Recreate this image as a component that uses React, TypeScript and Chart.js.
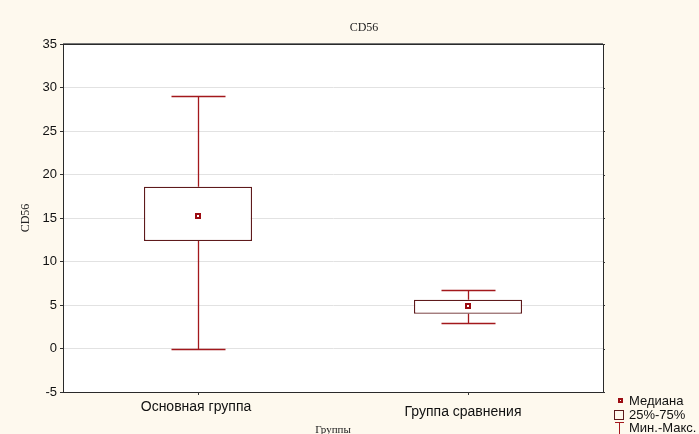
import React, { useEffect, useRef } from "react";
import { Chart, registerables } from "chart.js";

Chart.register(...registerables);

const categories = ["Основная группа", "Группа сравнения"];
const q1Values = [12.35, 4.0];
const q3Values = [18.6, 5.6];
const medianValues = [15.2, 4.9];
const minValues = [0, 2.95];
const maxValues = [29, 6.7];
const yTicks = [-5, 0, 5, 10, 15, 20, 25, 30, 35];
const chartTitle = "CD56";
const yTitle = "CD56";
const xTitle = "Группы";
const legendLabels = ["Медиана", "25%-75%", "Мин.-Макс."];

const SANS = '"Liberation Sans", Arial, sans-serif';
const SERIF = '"Liberation Serif", "Times New Roman", serif';
const CREAM = "#fef9ee";
const WHISKER = "#a3181c";
const BOXLINE = "#5e1a1c";
const MEDIAN = "#9c0c12";

const boxPlugin = {
  id: "boxPlugin",
  beforeDraw(chart: any) {
    const { ctx, chartArea: a } = chart;
    ctx.save();
    ctx.fillStyle = CREAM;
    ctx.fillRect(0, 0, chart.width, chart.height);
    ctx.fillStyle = "#ffffff";
    ctx.fillRect(a.left, a.top, a.right - a.left, a.bottom - a.top);
    ctx.restore();
  },
  beforeDatasetsDraw(chart: any) {
    const { ctx } = chart;
    const x = chart.scales.x;
    const y = chart.scales.y;
    const step = x.getPixelForValue(1) - x.getPixelForValue(0);
    const capHalf = step * 0.1;
    ctx.save();
    ctx.strokeStyle = WHISKER;
    ctx.lineWidth = 1.3;
    categories.forEach((_, i) => {
      const cx = Math.round(x.getPixelForValue(i)) + 0.5;
      const yMax = Math.round(y.getPixelForValue(maxValues[i])) + 0.5;
      const yMin = Math.round(y.getPixelForValue(minValues[i])) + 0.5;
      const yQ1 = y.getPixelForValue(q1Values[i]);
      const yQ3 = y.getPixelForValue(q3Values[i]);
      ctx.beginPath();
      ctx.moveTo(cx, yQ3);
      ctx.lineTo(cx, yMax);
      ctx.moveTo(cx - capHalf, yMax);
      ctx.lineTo(cx + capHalf, yMax);
      ctx.moveTo(cx, yQ1);
      ctx.lineTo(cx, yMin);
      ctx.moveTo(cx - capHalf, yMin);
      ctx.lineTo(cx + capHalf, yMin);
      ctx.stroke();
    });
    ctx.restore();
  },
  afterDatasetsDraw(chart: any) {
    const { ctx, chartArea: a } = chart;
    const x = chart.scales.x;
    const y = chart.scales.y;
    ctx.save();
    // medians
    categories.forEach((_, i) => {
      const cx = Math.round(x.getPixelForValue(i));
      const cy = Math.round(y.getPixelForValue(medianValues[i]));
      ctx.fillStyle = MEDIAN;
      ctx.fillRect(cx - 3, cy - 3, 6, 6);
      ctx.fillStyle = "#ffffff";
      ctx.fillRect(cx - 1, cy - 1, 2, 2);
    });
    // frame
    ctx.strokeStyle = "#2a2a2a";
    ctx.lineWidth = 1;
    ctx.strokeRect(Math.round(a.left) + 0.5, Math.round(a.top) + 0.5, Math.round(a.right - a.left), Math.round(a.bottom - a.top));
    ctx.strokeStyle = "#777";
    ctx.beginPath();
    ctx.moveTo(a.left, Math.round(a.top) - 0.5);
    ctx.lineTo(a.right, Math.round(a.top) - 0.5);
    ctx.stroke();
    // right-side ticks
    ctx.strokeStyle = "#333";
    ctx.beginPath();
    yTicks.forEach((t) => {
      const py = Math.round(y.getPixelForValue(t)) + 0.5;
      ctx.moveTo(a.right, py);
      ctx.lineTo(a.right + 2, py);
    });
    // x ticks
    categories.forEach((_, i) => {
      const px = Math.round(x.getPixelForValue(i)) + 0.5;
      ctx.moveTo(px, a.bottom);
      ctx.lineTo(px, a.bottom + 3);
    });
    ctx.stroke();
    // category labels
    ctx.fillStyle = "#111";
    ctx.font = `14px ${SANS}`;
    ctx.textAlign = "center";
    ctx.textBaseline = "middle";
    const labelY = [407, 412];
    categories.forEach((c, i) => {
      ctx.fillText(c, x.getPixelForValue(i) - 2 - i * 3, labelY[i]);
    });
    // titles
    ctx.fillStyle = "#222";
    ctx.font = `12px ${SERIF}`;
    ctx.fillText(chartTitle, 364, 28);
    ctx.font = `11px ${SERIF}`;
    ctx.fillText(xTitle, (a.left + a.right) / 2, 430);
    ctx.save();
    ctx.translate(26, (a.top + a.bottom) / 2);
    ctx.rotate(-Math.PI / 2);
    ctx.font = `12px ${SERIF}`;
    ctx.fillText(yTitle, 0, 0);
    ctx.restore();
    // legend
    const lx = a.right + 14;
    ctx.fillStyle = MEDIAN;
    ctx.fillRect(lx + 1, 398, 5, 5);
    ctx.fillStyle = "#fff";
    ctx.fillRect(lx + 3, 400, 1, 1);
    ctx.strokeStyle = BOXLINE;
    ctx.lineWidth = 1;
    ctx.strokeRect(lx - 2.5, 410.5, 9, 9);
    ctx.strokeStyle = WHISKER;
    ctx.beginPath();
    ctx.moveTo(lx - 2, 422.5);
    ctx.lineTo(lx + 7, 422.5);
    ctx.moveTo(lx + 2.5, 422);
    ctx.lineTo(lx + 2.5, 434);
    ctx.stroke();
    ctx.fillStyle = "#111";
    ctx.font = `13px ${SANS}`;
    ctx.textAlign = "left";
    ctx.fillText(legendLabels[0], lx + 12, 401);
    ctx.fillText(legendLabels[1], lx + 12, 415);
    ctx.fillText(legendLabels[2], lx + 12, 428.5);
    ctx.restore();
  },
};

export default function App() {
  const ref = useRef<HTMLCanvasElement>(null);
  useEffect(() => {
    if (!ref.current) return;
    const chart = new Chart(ref.current, {
      type: "bar",
      data: {
        labels: categories,
        datasets: [
          {
            data: categories.map((_, i) => [q1Values[i], q3Values[i]]) as any,
            backgroundColor: "#ffffff",
            borderColor: BOXLINE,
            borderWidth: 1.3,
            borderSkipped: false,
            barPercentage: 0.4,
            categoryPercentage: 1,
          },
        ],
      },
      options: {
        responsive: false,
        animation: false,
        events: [],
        layout: { padding: { top: 44, right: 96, left: 0, bottom: 0 } },
        plugins: { legend: { display: false }, tooltip: { enabled: false }, title: { display: false } },
        scales: {
          x: {
            type: "category",
            offset: true,
            grid: { display: false },
            border: { display: false },
            ticks: { display: false },
            afterFit(s: any) {
              s.height = 42;
            },
          },
          y: {
            type: "linear",
            min: -5,
            max: 35,
            afterBuildTicks(s: any) {
              s.ticks = yTicks.map((v) => ({ value: v }));
            },
            grid: { color: "#e2e2e2", tickColor: "#333", tickLength: 3 },
            border: { display: true, color: "#2a2a2a" },
            ticks: {
              color: "#111",
              font: { family: SANS, size: 13 },
              padding: 3,
            },
            afterFit(s: any) {
              s.width = 63;
            },
          },
        },
      },
      plugins: [boxPlugin],
    });
    return () => chart.destroy();
  }, []);
  return (
    <div style={{ position: "fixed", left: 0, top: 0, width: 699, height: 434, background: CREAM }}>
      <canvas ref={ref} width={699} height={434} style={{ display: "block", width: 699, height: 434 }} />
    </div>
  );
}
